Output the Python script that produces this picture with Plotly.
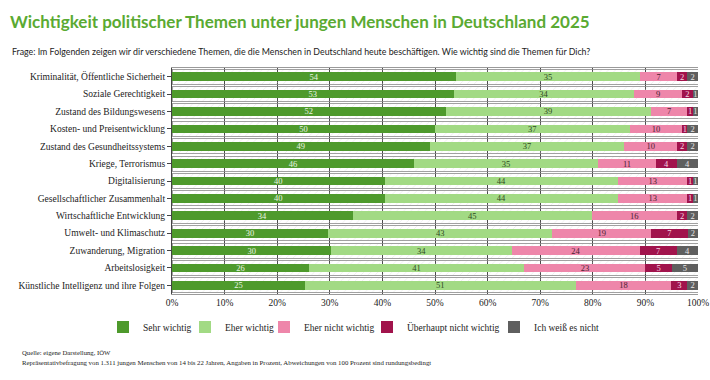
import plotly.graph_objects as go

categories = [
    "Kriminalität, Öffentliche Sicherheit",
    "Soziale Gerechtigkeit",
    "Zustand des Bildungswesens",
    "Kosten- und Preisentwicklung",
    "Zustand des Gesundheitssystems",
    "Kriege, Terrorismus",
    "Digitalisierung",
    "Gesellschaftlicher Zusammenhalt",
    "Wirtschaftliche Entwicklung",
    "Umwelt- und Klimaschutz",
    "Zuwanderung, Migration",
    "Arbeitslosigkeit",
    "Künstliche Intelligenz und ihre Folgen",
]
sehr_wichtig = [54, 53, 52, 50, 49, 46, 40, 40, 34, 30, 30, 26, 25]
eher_wichtig = [35, 34, 39, 37, 37, 35, 44, 44, 45, 43, 34, 41, 51]
eher_nicht_wichtig = [7, 9, 7, 10, 10, 11, 13, 13, 16, 19, 24, 23, 18]
ueberhaupt_nicht = [2, 2, 1, 1, 2, 4, 1, 1, 2, 7, 7, 5, 3]
weiss_nicht = [2, 1, 1, 2, 2, 4, 1, 1, 2, 2, 4, 5, 2]
x_ticks = [0, 10, 20, 30, 40, 50, 60, 70, 80, 90, 100]
x_ticklabels = [f"{t}%" for t in x_ticks]

series = [
    ("Sehr wichtig", sehr_wichtig, "#4e9a2c", "#eaf5e2"),
    ("Eher wichtig", eher_wichtig, "#a2da84", "#2f4a22"),
    ("Eher nicht wichtig", eher_nicht_wichtig, "#ee86aa", "#4a2232"),
    ("Überhaupt nicht wichtig", ueberhaupt_nicht, "#a1134c", "#f6d6e2"),
    ("Ich weiß es nicht", weiss_nicht, "#5f5f5f", "#e6e6e6"),
]
# left edge (px) of each legend entry box
legend_left = [103, 185, 264, 367, 494]

# row totals (rounding deviations from 100) -> draw shares of each row
totals = [sum(v) for v in zip(sehr_wichtig, eher_wichtig, eher_nicht_wichtig, ueberhaupt_nicht, weiss_nicht)]

SERIF = "Liberation Serif"
SANS = "Lato"
W, H = 710, 380

fig = go.Figure()

# hatched background bands
fig.add_trace(go.Bar(
    y=categories, x=[100] * len(categories), orientation="h",
    width=0.86, showlegend=False, hoverinfo="skip",
    marker=dict(color="rgba(0,0,0,0)",
                line=dict(color="#8a8a8a", width=0.8),
                pattern=dict(shape="/", fgcolor="#dadada", bgcolor="rgba(0,0,0,0)",
                             size=5, solidity=0.15)),
    xaxis="x", yaxis="y",
))

legend_layouts = {}
for i, (name, vals, color, tcolor) in enumerate(series):
    lname = "legend" if i == 0 else f"legend{i + 1}"
    fig.add_trace(go.Bar(
        name=name, y=categories,
        x=[v * 100 / t for v, t in zip(vals, totals)],
        text=[str(v) for v in vals],
        orientation="h", width=0.5,
        marker=dict(color=color, line=dict(width=0)),
        textposition="inside", insidetextanchor="middle", textangle=0,
        textfont=dict(family=SERIF, size=8.5, color=tcolor),
        xaxis="x", yaxis="y2", legend=lname,
    ))
    legend_layouts[lname] = dict(
        orientation="h", x=legend_left[i] / W, xref="container", xanchor="left",
        y=1 - 327 / H, yref="container", yanchor="middle",
        font=dict(family=SERIF, size=9.5, color="#222"),
        itemwidth=30, bgcolor="rgba(0,0,0,0)",
    )

fig.update_layout(
    width=W, height=H,
    barmode="stack",
    paper_bgcolor="white", plot_bgcolor="white",
    margin=dict(l=172, r=12, t=68, b=86, pad=0, autoexpand=False),
    uniformtext=dict(minsize=8, mode="show"),
    title=dict(
        text="Wichtigkeit politischer Themen unter jungen Menschen in Deutschland 2025",
        x=10 / W, xanchor="left", xref="container",
        y=1 - 22 / H, yanchor="middle", yref="container",
        font=dict(family=SANS, size=17, color="#5aaa32", weight="bold"),
    ),
    xaxis=dict(
        range=[0, 100], tickvals=x_ticks, ticktext=x_ticklabels,
        showgrid=True, gridcolor="#4a4a4a", gridwidth=1,
        zeroline=False, showline=True, linecolor="#9a9a9a", mirror=True,
        ticks="", tickfont=dict(family=SERIF, size=9.5, color="#222"),
        fixedrange=True,
    ),
    yaxis=dict(
        categoryorder="array", categoryarray=categories,
        autorange="reversed",
        showline=True, linecolor="#444", mirror=False,
        ticks="outside", ticklen=4, tickcolor="#444",
        tickfont=dict(family=SERIF, size=9.5, color="#222"),
        showgrid=False,
    ),
    yaxis2=dict(
        overlaying="y", matches="y", showticklabels=False, showgrid=False,
        categoryorder="array", categoryarray=categories,
        autorange="reversed", showline=False, ticks="",
    ),
    annotations=[
        dict(text="Frage: Im Folgenden zeigen wir dir verschiedene Themen, die die Menschen in Deutschland heute beschäftigen. Wie wichtig sind die Themen für Dich?",
             xref="paper", yref="paper", x=(10 - 172) / 525, y=(294 - 51) / 226,
             xanchor="left", yanchor="middle", showarrow=False,
             font=dict(family=SANS, size=8.8, color="#222")),
        dict(text="Quelle: eigene Darstellung, IÖW",
             xref="paper", yref="paper", x=(20 - 172) / 525, y=(294 - 352) / 226,
             xanchor="left", yanchor="middle", showarrow=False,
             font=dict(family=SERIF, size=6.7, color="#222")),
        dict(text="Repräsentativbefragung von 1.311 jungen Menschen von 14 bis 22 Jahren, Angaben in Prozent, Abweichungen von 100 Prozent sind rundungsbedingt",
             xref="paper", yref="paper", x=(20 - 172) / 525, y=(294 - 362) / 226,
             xanchor="left", yanchor="middle", showarrow=False,
             font=dict(family=SERIF, size=6.8, color="#222")),
    ],
    **legend_layouts,
)

fig.write_html("out.html")
